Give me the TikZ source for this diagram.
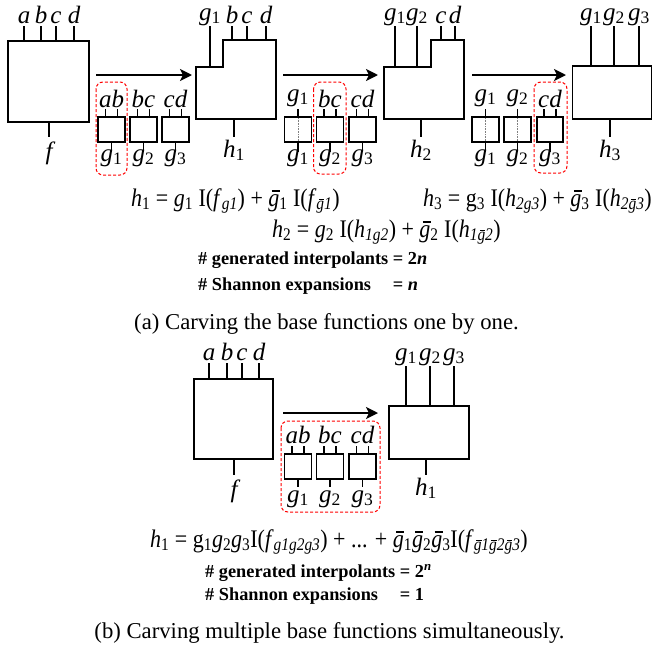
\documentclass[tikz,border=0pt]{standalone}
\usepackage{fontspec}
\usepackage{graphicx}
\setmainfont{Liberation Serif}
\usetikzlibrary{arrows.meta}
\newcommand\ssub[1]{\textsubscript{#1}}
\newcommand\gbar{\makebox[0pt][l]{\hspace{0.15em}\rule[0.57em]{0.36em}{0.045em}}\textit{g}}
\newcommand\gl[1]{g\textsubscript{\upshape #1}}
\newcommand\vstretch[1]{\scalebox{1}[1.15]{#1}}
\begin{document}
\begin{tikzpicture}[x=1pt,y=-1pt,
  ln/.style={line width=1.5pt},
  bx/.style={draw,line width=1.5pt,inner sep=0pt,outer sep=0pt},
  lab/.style={inner sep=0pt,anchor=base,font=\fontsize{25}{29}\selectfont\itshape},
  grp/.style={draw=red,line width=1pt,dash pattern=on 3pt off 2pt,rounded corners=7pt},
  arr/.style={line width=2pt,-{Stealth[length=12pt,width=12pt,inset=3pt]}},
  eq/.style={inner sep=0pt,anchor=base west,font=\fontsize{22}{26}\selectfont},
  bld/.style={inner sep=0pt,anchor=base west,font=\fontsize{18.3}{22}\selectfont\bfseries},
  captxt/.style={inner sep=0pt,anchor=base,font=\fontsize{22.7}{27}\selectfont},
  dotl/.style={densely dotted,line width=0.6pt,gray}]
\useasboundingbox (0,0) rectangle (653,651);

% ---------------- part (a) ----------------
\node[bx,minimum width=81pt,minimum height=81pt] (F) at (48.5,81.5) {};
\foreach \x/\t in {24/a,41/b,56/c,74/d}{
  \draw[ln] (\x,41) -- (\x,26);
  \node[lab] (Fi\t) at (\x,23) {\t};
}
\draw[ln] (49,122) -- (49,137);
\node[lab] (Fo) at (49,159) {f};

\draw[arr] (96,75) -- (192,75);

\foreach \n/\cx/\tl/\bl in {A/111.5/ab/1,B/143.5/bc/2,C/175.5/cd/3}{
  \node[bx,minimum width=27pt,minimum height=25pt] (s1\n) at (\cx,129.5) {};
  \draw[ln] (\cx-6,117) -- (\cx-6,109) (\cx+6,117) -- (\cx+6,109) (\cx,142) -- (\cx,152);
  \node[lab] (s1\n t) at (\cx,107) {\tl};
  \node[lab] (s1\n b) at (\cx,161) {\gl{\bl}};
}
\draw[grp] (96,82) rectangle (127,175);

\draw[ln,line join=miter] (196,67) -- (223,67) -- (223,40) -- (276,40) -- (276,119) -- (196,119) -- cycle;
\draw[ln] (210,67) -- (210,26);
\node[lab] (H1g1) at (210,20) {\gl{1}};
\foreach \x/\t in {232/b,247/c,266/d}{
  \draw[ln] (\x,40) -- (\x,26);
  \node[lab] (H1\t) at (\x,23) {\t};
}
\draw[ln] (234,119) -- (234,137);
\node[lab] (H1o) at (234,157) {h\textsubscript{\upshape 1}};

\draw[arr] (283,75) -- (378,75);

\node[bx,minimum width=27pt,minimum height=25pt] (s2A) at (298,129.5) {};
\draw[dotl] (298,118) -- (298,141);
\draw[ln] (298,117) -- (298,109) (298,142) -- (298,152);
\node[lab] (s2At) at (298,101) {\gl{1}};
\node[lab] (s2Ab) at (298,161) {\gl{1}};
\foreach \n/\cx/\tl/\bl in {B/330/bc/2,C/362.5/cd/3}{
  \node[bx,minimum width=27pt,minimum height=25pt] (s2\n) at (\cx,129.5) {};
  \draw[ln] (\cx-6,117) -- (\cx-6,109) (\cx+6,117) -- (\cx+6,109) (\cx,142) -- (\cx,152);
  \node[lab] (s2\n t) at (\cx,107) {\tl};
  \node[lab] (s2\n b) at (\cx,161) {\gl{\bl}};
}
\draw[grp] (313.5,82) rectangle (346,174);

\draw[ln,line join=miter] (384,67) -- (431,67) -- (431,40) -- (464,40) -- (464,119) -- (384,119) -- cycle;
\draw[ln] (395,67) -- (395,26) (417,67) -- (417,26);
\node[lab] (H2g1) at (395,20) {\gl{1}};
\node[lab] (H2g2) at (417,20) {\gl{2}};
\foreach \x/\t in {441/c,455/d}{
  \draw[ln] (\x,40) -- (\x,26);
  \node[lab] (H2\t) at (\x,23) {\t};
}
\draw[ln] (421,119) -- (421,137);
\node[lab] (H2o) at (421,157) {h\textsubscript{\upshape 2}};

\draw[arr] (472,75) -- (566,75);

\foreach \n/\cx/\g in {A/485.5/1,B/517.5/2}{
  \node[bx,minimum width=27pt,minimum height=25pt] (s3\n) at (\cx,129.5) {};
  \draw[dotl] (\cx,118) -- (\cx,141);
  \draw[ln] (\cx,117) -- (\cx,109) (\cx,142) -- (\cx,152);
  \node[lab] (s3\n t) at (\cx,101) {\gl{\g}};
  \node[lab] (s3\n b) at (\cx,161) {\gl{\g}};
}
\node[bx,minimum width=26pt,minimum height=25pt] (s3C) at (550,129.5) {};
\draw[ln] (544,117) -- (544,109) (556,117) -- (556,109) (550,142) -- (550,152);
\node[lab] (s3Ct) at (550,107) {cd};
\node[lab] (s3Cb) at (550,161) {\gl{3}};
\draw[grp] (534,82) rectangle (567,173);

\node[bx,minimum width=79pt,minimum height=53pt] (H3) at (612,92.5) {};
\foreach \x/\g in {591/1,614/2,639/3}{
  \draw[ln] (\x,66) -- (\x,26);
  \node[lab] (H3g\g) at (\x,20) {\gl{\g}};
}
\draw[ln] (610,119) -- (610,137);
\node[lab] (H3o) at (610,157) {h\textsubscript{\upshape 3}};

\node[eq] (E1) at (131,206) {\vstretch{\textit{h}\ssub{1} = \textit{g}\ssub{1} I(\textit{f}\ssub{\textit{g1}}) + \gbar\ssub{1} I(\textit{f}\ssub{\textit{\gbar1}})}};
\node[eq] (E3) at (423,206) {\vstretch{\textit{h}\ssub{3} = g\ssub{3} I(\textit{h}\ssub{\textit{2g3}}) + \gbar\ssub{3} I(\textit{h}\ssub{\textit{2\gbar3}})}};
\node[eq] (E2) at (272,237) {\vstretch{\textit{h}\ssub{2} = \textit{g}\ssub{2} I(\textit{h}\ssub{\textit{1g2}}) + \gbar\ssub{2} I(\textit{h}\ssub{\textit{1\gbar2}})}};
\node[bld] (B1) at (198,264) {\# generated interpolants = 2\textit{n}};
\node[bld] (B2) at (198,290) {\makebox[0pt][l]{\# Shannon expansions}\phantom{\# generated interpolants} = \textit{n}};
\node[captxt] (CA) at (326.5,329) {(a) Carving the base functions one by one.};

% ---------------- part (b) ----------------
\node[bx,minimum width=79pt,minimum height=80pt] (G) at (233.5,419) {};
\foreach \x/\t in {209/a,227/b,242/c,259/d}{
  \draw[ln] (\x,379) -- (\x,363);
  \node[lab] (Gi\t) at (\x,360) {\t};
}
\draw[ln] (234,459) -- (234,475);
\node[lab] (Go) at (234,497) {f};

\draw[arr] (283,413) -- (378,413);

\foreach \n/\cx/\tl/\bl in {A/298/ab/1,B/330/bc/2,C/362.5/cd/3}{
  \node[bx,minimum width=27pt,minimum height=25pt] (s4\n) at (\cx,466.5) {};
  \draw[ln] (\cx-6,454) -- (\cx-6,446) (\cx+6,454) -- (\cx+6,446) (\cx,479) -- (\cx,487);
  \node[lab] (s4\n t) at (\cx,443) {\tl};
  \node[lab] (s4\n b) at (\cx,502) {\gl{\bl}};
}
\draw[grp] (281,421) rectangle (380,512);

\node[bx,minimum width=80pt,minimum height=53pt] (K) at (429,432.5) {};
\foreach \x/\g in {406/1,430/2,454/3}{
  \draw[ln] (\x,406) -- (\x,366);
  \node[lab] (Kg\g) at (\x,360) {\gl{\g}};
}
\draw[ln] (426,459) -- (426,475);
\node[lab] (Ko) at (426,495) {h\textsubscript{\upshape 1}};

\node[eq] (E4) at (150,547) {\vstretch{\textit{h}\ssub{1} = g\ssub{1}\textit{g}\ssub{2}\textit{g}\ssub{3}I(\textit{f}\ssub{\textit{g1g2g3}}) + ... + \gbar\ssub{1}\gbar\ssub{2}\gbar\ssub{3}I(\textit{f}\ssub{\textit{\gbar1\gbar2\gbar3}})}};
\node[bld] (B3) at (205,577) {\# generated interpolants = 2\textsuperscript{\textit{n}}};
\node[bld] (B4) at (205,600) {\makebox[0pt][l]{\# Shannon expansions}\phantom{\# generated interpolants} = 1};
\node[captxt] (CB) at (329.5,638) {(b) Carving multiple base functions simultaneously.};
\end{tikzpicture}
\end{document}
